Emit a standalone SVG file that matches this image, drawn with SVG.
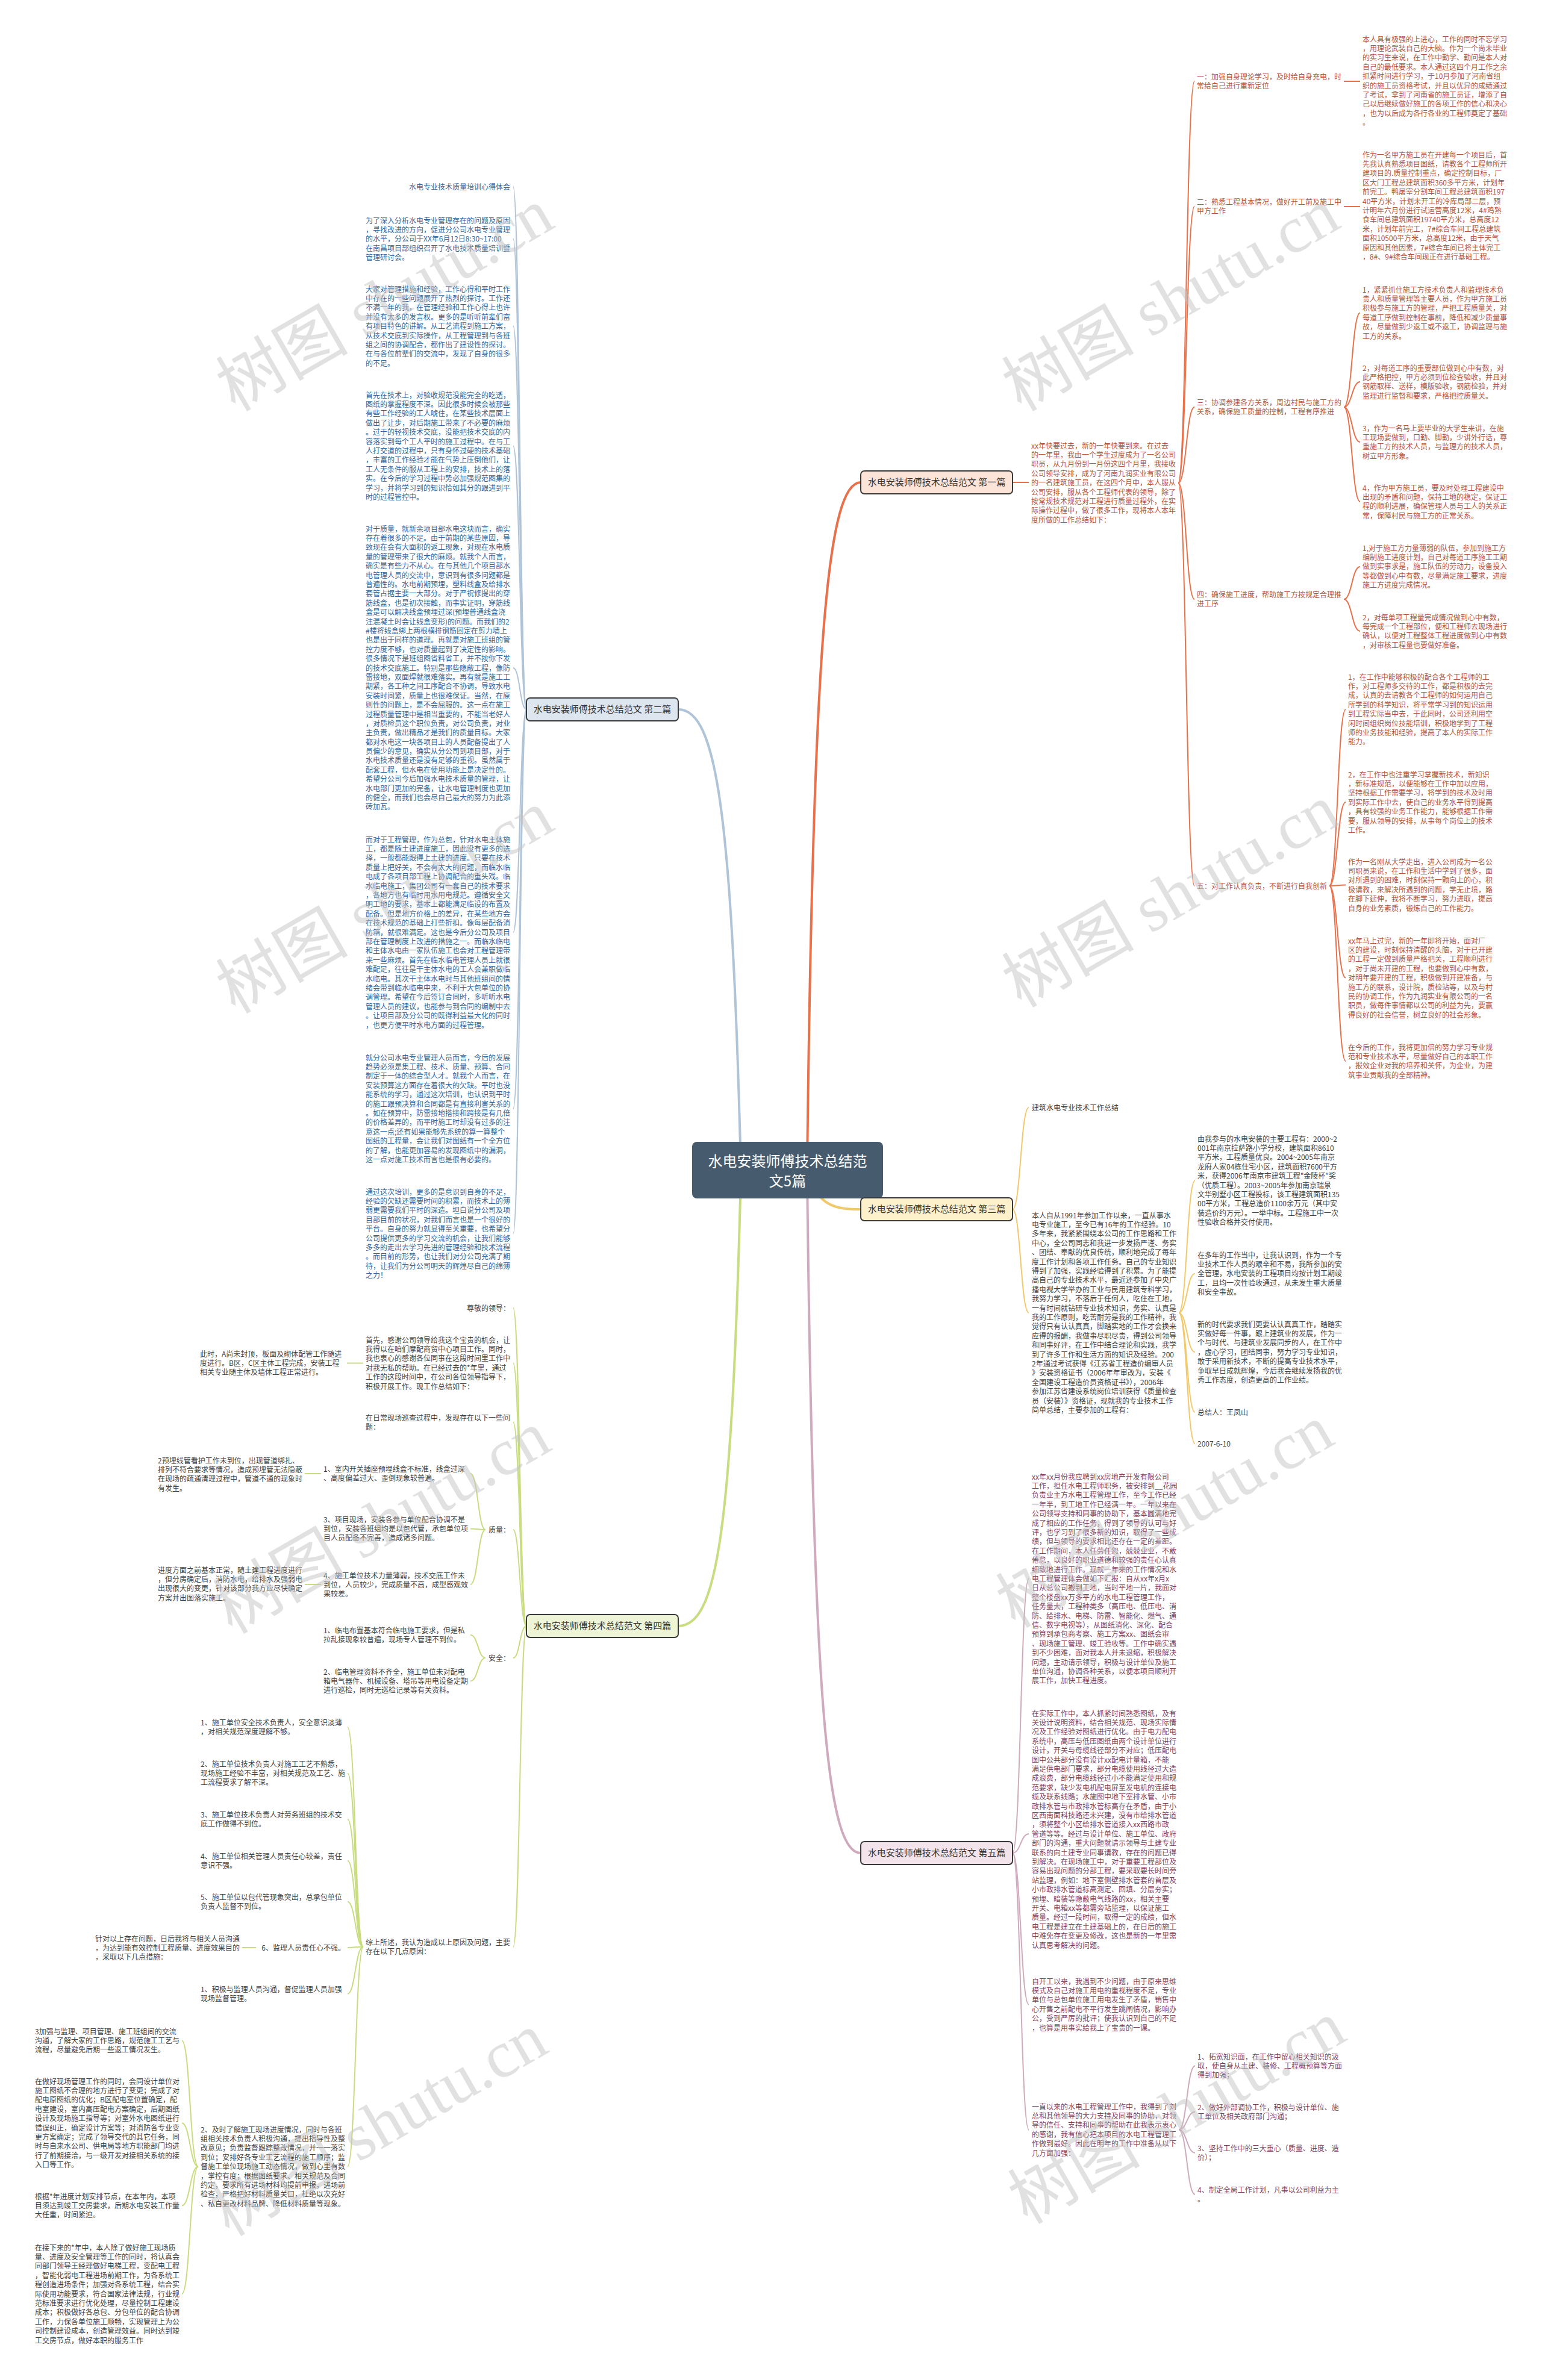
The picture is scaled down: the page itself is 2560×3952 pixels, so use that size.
<svg xmlns="http://www.w3.org/2000/svg" width="2560" height="3952" viewBox="0 0 2560 3952">
<style>
text{font-family:"Noto Sans CJK SC","Noto Sans",sans-serif;font-size:12px}
.c1{fill:#b5533c}
.c2{fill:#2f65a0}
.c3{fill:#3f3f3f}
.c4{fill:#3f3f3f}
.c5{fill:#7f3f5f}
.r{text-anchor:end}
.nt{font-size:15px;fill:#333333;text-anchor:middle}
.rt{font-size:24px;fill:#ffffff;text-anchor:middle}
.bn{stroke:#3a3a3a;stroke-width:2}
.k1{fill:none;stroke:#e8704a;stroke-width:2}
.k2{fill:none;stroke:#b0c4d8;stroke-width:2}
.k3{fill:none;stroke:#f2c96a;stroke-width:2}
.k4{fill:none;stroke:#c8dc80;stroke-width:2}
.k5{fill:none;stroke:#cfaabd;stroke-width:2}
.wm{font-family:"Liberation Serif","Noto Sans CJK SC",serif;font-size:110px;fill:#c4c4c4;opacity:0.5;text-anchor:middle}
</style>
<rect width="2560" height="3952" fill="#ffffff"/>

<g id="connectors">
<path class="k1" style="stroke-width:4" d="M1340 1940 C1350 1050 1375 801 1429 801"/>
<path class="k2" style="stroke-width:4" d="M1230 1940 C1215 1350 1190 1178 1126 1178"/>
<path class="k3" style="stroke-width:4" d="M1340 1950 C1360 2005 1390 2008 1429 2008"/>
<path class="k4" style="stroke-width:4" d="M1230 1950 C1215 2550 1190 2700 1126 2700"/>
<path class="k5" style="stroke-width:4" d="M1340 1950 C1350 2850 1375 3077 1429 3077"/>

<path class="k1" d="M1681 801 L1708 801"/>
<path class="k1" d="M1956 802 C1969.5 802 1969.5 135 1983 135"/>
<path class="k1" d="M1956 802 C1969.5 802 1969.5 343 1983 343"/>
<path class="k1" d="M1956 802 C1969.5 802 1969.5 676 1983 676"/>
<path class="k1" d="M1956 802 C1969.5 802 1969.5 995 1983 995"/>
<path class="k1" d="M1956 802 C1969.5 802 1969.5 1471 1983 1471"/>
<path class="k1" d="M2231 135 L2258 135"/>
<path class="k1" d="M2231 343 L2258 343"/>
<path class="k1" d="M2231 676 C2244.5 676 2244.5 519.5 2258 519.5"/>
<path class="k1" d="M2231 676 C2244.5 676 2244.5 634 2258 634"/>
<path class="k1" d="M2231 676 C2244.5 676 2244.5 734 2258 734"/>
<path class="k1" d="M2231 676 C2244.5 676 2244.5 833 2258 833"/>
<path class="k1" d="M2231 995 C2244.5 995 2244.5 941 2258 941"/>
<path class="k1" d="M2231 995 C2244.5 995 2244.5 1048 2258 1048"/>
<path class="k1" d="M2207 1471 C2220.5 1471 2220.5 1178 2234 1178"/>
<path class="k1" d="M2207 1471 C2220.5 1471 2220.5 1332 2234 1332"/>
<path class="k1" d="M2207 1471 C2220.5 1471 2220.5 1469.5 2234 1469.5"/>
<path class="k1" d="M2207 1471 C2220.5 1471 2220.5 1623.6 2234 1623.6"/>
<path class="k1" d="M2207 1471 C2220.5 1471 2220.5 1762 2234 1762"/>

<path class="k2" d="M874 1178 C863 1178 863 310 852 310"/>
<path class="k2" d="M874 1178 C863 1178 863 396.8 852 396.8"/>
<path class="k2" d="M874 1178 C863 1178 863 541.6 852 541.6"/>
<path class="k2" d="M874 1178 C863 1178 863 740.7 852 740.7"/>
<path class="k2" d="M874 1178 C863 1178 863 1109 852 1109"/>
<path class="k2" d="M874 1178 C863 1178 863 1548 852 1548"/>
<path class="k2" d="M874 1178 C863 1178 863 1840.7 852 1840.7"/>
<path class="k2" d="M874 1178 C863 1178 863 2048.3 852 2048.3"/>

<path class="k3" d="M1681 2008 C1694.5 2008 1694.5 1839 1708 1839"/>
<path class="k3" d="M1681 2008 C1694.5 2008 1694.5 2179.7 1708 2179.7"/>
<path class="k3" d="M1957 2179.7 C1970.5 2179.7 1970.5 1960.3 1984 1960.3"/>
<path class="k3" d="M1957 2179.7 C1970.5 2179.7 1970.5 2114.8 1984 2114.8"/>
<path class="k3" d="M1957 2179.7 C1970.5 2179.7 1970.5 2245.2 1984 2245.2"/>
<path class="k3" d="M1957 2179.7 C1970.5 2179.7 1970.5 2345 1984 2345"/>
<path class="k3" d="M1957 2179.7 C1970.5 2179.7 1970.5 2397 1984 2397"/>

<path class="k4" d="M874 2700 C863 2700 863 2172 852 2172"/>
<path class="k4" d="M874 2700 C863 2700 863 2263.5 852 2263.5"/>
<path class="k4" d="M874 2700 C863 2700 863 2361.7 852 2361.7"/>
<path class="k4" d="M874 2700 C863 2700 863 2540 852 2540"/>
<path class="k4" d="M874 2700 C863 2700 863 2753 852 2753"/>
<path class="k4" d="M874 2700 C863 2700 863 3232.7 852 3232.7"/>
<path class="k4" d="M603 2263.5 L576 2263.5"/>
<path class="k4" d="M806 2540 C793.5 2540 793.5 2446.7 781 2446.7"/>
<path class="k4" d="M806 2540 C793.5 2540 793.5 2538.4 781 2538.4"/>
<path class="k4" d="M806 2540 C793.5 2540 793.5 2631 781 2631"/>
<path class="k4" d="M533 2447 L506 2447"/>
<path class="k4" d="M533 2631 L506 2631"/>
<path class="k4" d="M806 2753 C793.5 2753 793.5 2714.7 781 2714.7"/>
<path class="k4" d="M806 2753 C793.5 2753 793.5 2791.4 781 2791.4"/>
<path class="k4" d="M603 3232.7 C590 3232.7 590 2867.7 577 2867.7"/>
<path class="k4" d="M603 3232.7 C590 3232.7 590 2944.4 577 2944.4"/>
<path class="k4" d="M603 3232.7 C590 3232.7 590 3020.7 577 3020.7"/>
<path class="k4" d="M603 3232.7 C590 3232.7 590 3089.7 577 3089.7"/>
<path class="k4" d="M603 3232.7 C590 3232.7 590 3157.7 577 3157.7"/>
<path class="k4" d="M603 3232.7 C590 3232.7 590 3234 577 3234"/>
<path class="k4" d="M603 3232.7 C590 3232.7 590 3310.7 577 3310.7"/>
<path class="k4" d="M603 3232.7 C590 3232.7 590 3597.6 577 3597.6"/>
<path class="k4" d="M425 3234 L402 3234"/>
<path class="k4" d="M329 3597.6 C315.5 3597.6 315.5 3388.4 302 3388.4"/>
<path class="k4" d="M329 3597.6 C315.5 3597.6 315.5 3525.3 302 3525.3"/>
<path class="k4" d="M329 3597.6 C315.5 3597.6 315.5 3662.4 302 3662.4"/>
<path class="k4" d="M329 3597.6 C315.5 3597.6 315.5 3809 302 3809"/>

<path class="k5" d="M1681 3077 C1694.5 3077 1694.5 2621.4 1708 2621.4"/>
<path class="k5" d="M1681 3077 C1694.5 3077 1694.5 3045.2 1708 3045.2"/>
<path class="k5" d="M1681 3077 C1694.5 3077 1694.5 3328.5 1708 3328.5"/>
<path class="k5" d="M1681 3077 C1694.5 3077 1694.5 3536.5 1708 3536.5"/>
<path class="k5" d="M1957 3536.5 C1970.5 3536.5 1970.5 3430.4 1984 3430.4"/>
<path class="k5" d="M1957 3536.5 C1970.5 3536.5 1970.5 3506.7 1984 3506.7"/>
<path class="k5" d="M1957 3536.5 C1970.5 3536.5 1970.5 3574.7 1984 3574.7"/>
<path class="k5" d="M1957 3536.5 C1970.5 3536.5 1970.5 3643.7 1984 3643.7"/>
</g>

<g id="root">
<rect x="1149" y="1896" width="317" height="94" rx="8" fill="#475b6e"/>
<text class="rt" x="1307.5" y="1937">水电安装师傅技术总结范</text>
<text class="rt" x="1307.5" y="1970">文5篇</text>
</g>

<g id="branch1">
<rect class="bn" x="1429" y="782" width="252" height="38" rx="6" fill="#fce4d9"/>
<text class="nt" x="1555" y="806">水电安装师傅技术总结范文 第一篇</text>
</g>
<g id="branch2">
<rect class="bn" x="874" y="1159" width="252" height="38" rx="6" fill="#dde6ef"/>
<text class="nt" x="1000" y="1183">水电安装师傅技术总结范文 第二篇</text>
</g>
<g id="branch3">
<rect class="bn" x="1429" y="1989" width="252" height="38" rx="6" fill="#fdf1cc"/>
<text class="nt" x="1555" y="2013">水电安装师傅技术总结范文 第三篇</text>
</g>
<g id="branch4">
<rect class="bn" x="874" y="2681" width="252" height="38" rx="6" fill="#eef5d6"/>
<text class="nt" x="1000" y="2705">水电安装师傅技术总结范文 第四篇</text>
</g>
<g id="branch5">
<rect class="bn" x="1429" y="3058" width="252" height="38" rx="6" fill="#f3e3ea"/>
<text class="nt" x="1555" y="3082">水电安装师傅技术总结范文 第五篇</text>
</g>

<g id="n1-intro"><text class="c1" x="1712" y="744.5"><tspan x="1712">xx年快要过去，新的一年快要到来。在过去</tspan><tspan x="1712" dy="15.4">的一年里，我由一个学生过度成为了一名公司</tspan><tspan x="1712" dy="15.4">职员，从九月份到一月份这四个月里，我接收</tspan><tspan x="1712" dy="15.4">公司领导安排，成为了河南九润实业有限公司</tspan><tspan x="1712" dy="15.4">的一名建筑施工员，在这四个月中，本人服从</tspan><tspan x="1712" dy="15.4">公司安排，服从各个工程师代表的领导，除了</tspan><tspan x="1712" dy="15.4">按常规技术规范对工程进行质量过程外，在实</tspan><tspan x="1712" dy="15.4">际操作过程中，做了很多工作，现将本人本年</tspan><tspan x="1712" dy="15.4">度所做的工作总结如下：</tspan></text></g>

<g id="n1-a"><text class="c1" x="1987" y="131.5"><tspan x="1987">一：加强自身理论学习，及时给自身充电，时</tspan><tspan x="1987" dy="15.4">常给自己进行重新定位</tspan></text></g>
<g id="n1-a1"><text class="c1" x="2262" y="69.5"><tspan x="2262">本人具有极强的上进心，工作的同时不忘学习</tspan><tspan x="2262" dy="15.4">，用理论武装自己的大脑。作为一个尚未毕业</tspan><tspan x="2262" dy="15.4">的实习生来说，在工作中勤学、勤问是本人对</tspan><tspan x="2262" dy="15.4">自己的最低要求。本人通过这四个月工作之余</tspan><tspan x="2262" dy="15.4">抓紧时间进行学习，于10月参加了河南省组</tspan><tspan x="2262" dy="15.4">织的施工员资格考试，并且以优异的成绩通过</tspan><tspan x="2262" dy="15.4">了考试，拿到了河南省的施工员证，增添了自</tspan><tspan x="2262" dy="15.4">己以后继续做好施工的各项工作的信心和决心</tspan><tspan x="2262" dy="15.4">，也为以后成为各行各业的工程师奠定了基础</tspan><tspan x="2262" dy="15.4">。</tspan></text></g>

<g id="n1-b"><text class="c1" x="1987" y="339.5"><tspan x="1987">二：熟悉工程基本情况，做好开工前及施工中</tspan><tspan x="1987" dy="15.4">甲方工作</tspan></text></g>
<g id="n1-b1"><text class="c1" x="2262" y="261.5"><tspan x="2262">作为一名甲方施工员在开建每一个项目后，首</tspan><tspan x="2262" dy="15.4">先我认真熟悉项目图纸，请教各个工程师所开</tspan><tspan x="2262" dy="15.4">建项目的.质量控制重点，确定控制目标，厂</tspan><tspan x="2262" dy="15.4">区大门工程总建筑面积360多平方米，计划年</tspan><tspan x="2262" dy="15.4">前完工。鸭屠宰分割车间工程总建筑面积197</tspan><tspan x="2262" dy="15.4">40平方米，计划未开工的冷库局部二层，预</tspan><tspan x="2262" dy="15.4">计明年六月份进行试运营高度12米，4#鸡熟</tspan><tspan x="2262" dy="15.4">食车间总建筑面积19740平方米，总高度12</tspan><tspan x="2262" dy="15.4">米，计划年前完工，7#综合车间工程总建筑</tspan><tspan x="2262" dy="15.4">面积10500平方米，总高度12米，由于天气</tspan><tspan x="2262" dy="15.4">原因和其他因素，7#综合车间已将主体完工</tspan><tspan x="2262" dy="15.4">，8#、9#综合车间现正在进行基础工程。</tspan></text></g>

<g id="n1-c"><text class="c1" x="1987" y="672.5"><tspan x="1987">三：协调参建各方关系，周边村民与施工方的</tspan><tspan x="1987" dy="15.4">关系，确保施工质量的控制，工程有序推进</tspan></text></g>
<g id="n1-c1"><text class="c1" x="2262" y="485.5"><tspan x="2262">1，紧紧抓住施工方技术负责人和监理技术负</tspan><tspan x="2262" dy="15.4">责人和质量管理等主要人员，作为甲方施工员</tspan><tspan x="2262" dy="15.4">积极参与施工方的管理，严把工程质量关，对</tspan><tspan x="2262" dy="15.4">每道工序做到控制在事前，降低和减少质量事</tspan><tspan x="2262" dy="15.4">故，尽量做到少返工或不返工，协调监理与施</tspan><tspan x="2262" dy="15.4">工方的关系。</tspan></text></g>
<g id="n1-c2"><text class="c1" x="2262" y="615.5"><tspan x="2262">2，对每道工序的重要部位做到心中有数，对</tspan><tspan x="2262" dy="15.4">此严格把控，甲方必须到位检查验收，并且对</tspan><tspan x="2262" dy="15.4">钢筋取样、送样，模版验收，钢筋检验，并对</tspan><tspan x="2262" dy="15.4">监理进行监督和要求，严格把控质量关。</tspan></text></g>
<g id="n1-c3"><text class="c1" x="2262" y="715.5"><tspan x="2262">3，作为一名马上要毕业的大学生来讲，在施</tspan><tspan x="2262" dy="15.4">工现场要做到，口勤、脚勤，少讲外行话，尊</tspan><tspan x="2262" dy="15.4">重施工方的技术人员，与监理方的技术人员，</tspan><tspan x="2262" dy="15.4">树立甲方形象。</tspan></text></g>
<g id="n1-c4"><text class="c1" x="2262" y="814.5"><tspan x="2262">4，作为甲方施工员，要及时处理工程建设中</tspan><tspan x="2262" dy="15.4">出现的矛盾和问题，保持工地的稳定，保证工</tspan><tspan x="2262" dy="15.4">程的顺利进展，确保管理人员与工人的关系正</tspan><tspan x="2262" dy="15.4">常，保障村民与施工方的正常关系。</tspan></text></g>

<g id="n1-d"><text class="c1" x="1987" y="991.5"><tspan x="1987">四：确保施工进度，帮助施工方按规定合理推</tspan><tspan x="1987" dy="15.4">进工序</tspan></text></g>
<g id="n1-d1"><text class="c1" x="2262" y="914.5"><tspan x="2262">1,对于施工方力量薄弱的队伍，参加到施工方</tspan><tspan x="2262" dy="15.4">编制施工进度计划，自己对每道工序施工工期</tspan><tspan x="2262" dy="15.4">做到实事求是，施工队伍的劳动力，设备投入</tspan><tspan x="2262" dy="15.4">等都做到心中有数，尽量满足施工要求，进度</tspan><tspan x="2262" dy="15.4">施工方进度完成情况。</tspan></text></g>
<g id="n1-d2"><text class="c1" x="2262" y="1029.5"><tspan x="2262">2，对每单项工程量完成情况做到心中有数，</tspan><tspan x="2262" dy="15.4">每完成一个工程部位，便和工程师去现场进行</tspan><tspan x="2262" dy="15.4">确认，以便对工程整体工程进度做到心中有数</tspan><tspan x="2262" dy="15.4">，对审核工程量也要做好准备。</tspan></text></g>

<g id="n1-e"><text class="c1" x="1987" y="1475.5">五：对工作认真负责，不断进行自我创新</text></g>
<g id="n1-e1"><text class="c1" x="2238" y="1128.5"><tspan x="2238">1，在工作中能够积极的配合各个工程师的工</tspan><tspan x="2238" dy="15.4">作，对工程师多交待的工作，都是积极的去完</tspan><tspan x="2238" dy="15.4">成，认真的去请教各个工程师的如何运用自己</tspan><tspan x="2238" dy="15.4">所学到的科学知识，将平常学习到的知识运用</tspan><tspan x="2238" dy="15.4">到工程实际当中去，于此同时，公司还利用空</tspan><tspan x="2238" dy="15.4">闲时间组织岗位技能培训，积极地学到了工程</tspan><tspan x="2238" dy="15.4">师的业务技能和经验，提高了本人的实际工作</tspan><tspan x="2238" dy="15.4">能力。</tspan></text></g>
<g id="n1-e2"><text class="c1" x="2238" y="1290.5"><tspan x="2238">2，在工作中也注重学习掌握新技术，新知识</tspan><tspan x="2238" dy="15.4">，新标准规范，以便能够在工作中加以应用，</tspan><tspan x="2238" dy="15.4">坚持根据工作需要学习，将学到的技术及时用</tspan><tspan x="2238" dy="15.4">到实际工作中去，使自己的业务水平得到提高</tspan><tspan x="2238" dy="15.4">，具有较强的业务工作能力，能够根据工作需</tspan><tspan x="2238" dy="15.4">要，服从领导的安排，从事每个岗位上的技术</tspan><tspan x="2238" dy="15.4">工作。</tspan></text></g>
<g id="n1-e3"><text class="c1" x="2238" y="1435.5"><tspan x="2238">作为一名刚从大学走出，进入公司成为一名公</tspan><tspan x="2238" dy="15.4">司职员来说，在工作和生活中学到了很多，面</tspan><tspan x="2238" dy="15.4">对所遇到的困难，时刻保持一颗向上的心，积</tspan><tspan x="2238" dy="15.4">极请教，来解决所遇到的问题，学无止境，路</tspan><tspan x="2238" dy="15.4">在脚下延伸，我将不断学习，努力进取，提高</tspan><tspan x="2238" dy="15.4">自身的业务素质，锻炼自己的工作能力。</tspan></text></g>
<g id="n1-e4"><text class="c1" x="2238" y="1566.5"><tspan x="2238">xx年马上过完，新的一年即将开始，面对厂</tspan><tspan x="2238" dy="15.4">区的建设，时刻保持清醒的头脑，对于已开建</tspan><tspan x="2238" dy="15.4">的工程一定做到质量严格把关，工程顺利进行</tspan><tspan x="2238" dy="15.4">，对于尚未开建的工程，也要做到心中有数，</tspan><tspan x="2238" dy="15.4">对明年要开建的工程，积极做到开建准备，与</tspan><tspan x="2238" dy="15.4">施工方的联系，设计院，质检站等，以及与村</tspan><tspan x="2238" dy="15.4">民的协调工作，作为九润实业有限公司的一名</tspan><tspan x="2238" dy="15.4">职员，做每件事情都以公司的利益为先，要赢</tspan><tspan x="2238" dy="15.4">得良好的社会信誉，树立良好的社会形象。</tspan></text></g>
<g id="n1-e5"><text class="c1" x="2238" y="1743.5"><tspan x="2238">在今后的工作，我将更加倍的努力学习专业规</tspan><tspan x="2238" dy="15.4">范和专业技术水平，尽量做好自己的本职工作</tspan><tspan x="2238" dy="15.4">，报效企业对我的培养和关怀，为企业，为建</tspan><tspan x="2238" dy="15.4">筑事业贡献我的全部精神。</tspan></text></g>

<g id="n2-title"><text class="c2 r" x="847" y="314.5">水电专业技术质量培训心得体会</text></g>
<g id="n2-p1"><text class="c2" x="607" y="370.5"><tspan x="607">为了深入分析水电专业管理存在的问题及原因</tspan><tspan x="607" dy="15.4">，寻找改进的方向，促进分公司水电专业管理</tspan><tspan x="607" dy="15.4">的水平，分公司于XX年6月12日8:30~17:00</tspan><tspan x="607" dy="15.4">在南昌项目部组织召开了水电技术质量培训暨</tspan><tspan x="607" dy="15.4">管理研讨会。</tspan></text></g>
<g id="n2-p2"><text class="c2" x="607" y="484.5"><tspan x="607">大家对管理措施和经验，工作心得和平时工作</tspan><tspan x="607" dy="15.4">中存在的一些问题展开了热烈的探讨。工作还</tspan><tspan x="607" dy="15.4">不满一年的我，在管理经验和工作心得上也许</tspan><tspan x="607" dy="15.4">并没有太多的发言权。更多的是听听前辈们富</tspan><tspan x="607" dy="15.4">有项目特色的讲解。从工艺流程到施工方案，</tspan><tspan x="607" dy="15.4">从技术交底到实际操作，从工程管理到与各班</tspan><tspan x="607" dy="15.4">组之间的协调配合，都作出了建设性的探讨。</tspan><tspan x="607" dy="15.4">在与各位前辈们的交流中，发现了自身的很多</tspan><tspan x="607" dy="15.4">的不足。</tspan></text></g>
<g id="n2-p3"><text class="c2" x="607" y="660.5"><tspan x="607">首先在技术上，对验收规范没能完全的吃透，</tspan><tspan x="607" dy="15.4">图纸的掌握程度不深。因此很多时候会被那些</tspan><tspan x="607" dy="15.4">有些工作经验的工人唬住，在某些技术层面上</tspan><tspan x="607" dy="15.4">做出了让步，对后期施工带来了不必要的麻烦</tspan><tspan x="607" dy="15.4">。过于的轻视技术交底，没能把技术交底的内</tspan><tspan x="607" dy="15.4">容落实到每个工人平时的施工过程中。在与工</tspan><tspan x="607" dy="15.4">人打交道的过程中，只有身怀过硬的技术基础</tspan><tspan x="607" dy="15.4">，丰富的工作经验才能在气势上压倒他们，让</tspan><tspan x="607" dy="15.4">工人无条件的服从工程上的安排，技术上的落</tspan><tspan x="607" dy="15.4">实。在今后的学习过程中势必加强规范图集的</tspan><tspan x="607" dy="15.4">学习，并将学习到的知识恰如其分的跟进到平</tspan><tspan x="607" dy="15.4">时的过程管控中。</tspan></text></g>
<g id="n2-p4"><text class="c2" x="607" y="882.5"><tspan x="607">对于质量，就新余项目部水电这块而言，确实</tspan><tspan x="607" dy="15.4">存在着很多的不足。由于前期的某些原因，导</tspan><tspan x="607" dy="15.4">致现在会有大面积的返工现象，对现在水电质</tspan><tspan x="607" dy="15.4">量的管理带来了很大的麻烦。就我个人而言，</tspan><tspan x="607" dy="15.4">确实是有些力不从心。在与其他几个项目部水</tspan><tspan x="607" dy="15.4">电管理人员的交流中，意识到有很多问题都是</tspan><tspan x="607" dy="15.4">普遍性的。水电前期预埋，塑料线盒及给排水</tspan><tspan x="607" dy="15.4">套管占据主要一大部分。对于严祝修提出的穿</tspan><tspan x="607" dy="15.4">筋线盒，也是初次接触，而事实证明，穿筋线</tspan><tspan x="607" dy="15.4">盒是可以解决线盒预埋过深(预埋普通线盒浇</tspan><tspan x="607" dy="15.4">注混凝土时会让线盒变形)的问题。而我们的2</tspan><tspan x="607" dy="15.4">#楼将线盒绑上两根横排钢筋固定在剪力墙上</tspan><tspan x="607" dy="15.4">也是出于同样的道理。再就是对施工班组的管</tspan><tspan x="607" dy="15.4">控力度不够，也对质量起到了决定性的影响。</tspan><tspan x="607" dy="15.4">很多情况下是班组图省料省工，并不按你下发</tspan><tspan x="607" dy="15.4">的技术交底施工。特别是那些隐蔽工程，像防</tspan><tspan x="607" dy="15.4">雷接地，双面焊就很难落实。再有就是施工工</tspan><tspan x="607" dy="15.4">期紧，各工种之间工序配合不协调，导致水电</tspan><tspan x="607" dy="15.4">安装时间紧，质量上也很难保证。当然，在原</tspan><tspan x="607" dy="15.4">则性的问题上，是不会屈服的。这一点在施工</tspan><tspan x="607" dy="15.4">过程质量管理中是相当重要的，不能当老好人</tspan><tspan x="607" dy="15.4">，对质检员这个职位负责，对公司负责，对业</tspan><tspan x="607" dy="15.4">主负责，做出精品才是我们的质量目标。大家</tspan><tspan x="607" dy="15.4">都对水电这一块各项目上的人员配备提出了人</tspan><tspan x="607" dy="15.4">员偏少的意见，确实从分公司到项目部，对于</tspan><tspan x="607" dy="15.4">水电技术质量还是没有足够的重视。虽然属于</tspan><tspan x="607" dy="15.4">配套工程，但水电在使用功能上是决定性的。</tspan><tspan x="607" dy="15.4">希望分公司今后加强水电技术质量的管理，让</tspan><tspan x="607" dy="15.4">水电部门更加的完备，让水电管理制度也更加</tspan><tspan x="607" dy="15.4">的健全，而我们也会尽自己最大的努力为此添</tspan><tspan x="607" dy="15.4">砖加瓦。</tspan></text></g>
<g id="n2-p5"><text class="c2" x="607" y="1398.5"><tspan x="607">而对于工程管理，作为总包，针对水电主体施</tspan><tspan x="607" dy="15.4">工，都是随土建进度施工，因此没有更多的选</tspan><tspan x="607" dy="15.4">择，一般都能跟得上土建的进度。只要在技术</tspan><tspan x="607" dy="15.4">质量上把好关，不会有太大的问题，而临水临</tspan><tspan x="607" dy="15.4">电成了各项目部工程上协调配合的重头戏。临</tspan><tspan x="607" dy="15.4">水临电施工，集团公司有一套自己的技术要求</tspan><tspan x="607" dy="15.4">，各地方也有临时用水用电规范。遵循安全文</tspan><tspan x="607" dy="15.4">明工地的要求，基本上都能满足临设的布置及</tspan><tspan x="607" dy="15.4">配备。但是地方价格上的差异，在某些地方会</tspan><tspan x="607" dy="15.4">在技术规范的基础上打些折扣。像每层配备消</tspan><tspan x="607" dy="15.4">防箱，就很难满足。这也是今后分公司及项目</tspan><tspan x="607" dy="15.4">部在管理制度上改进的措施之一。而临水临电</tspan><tspan x="607" dy="15.4">和主体水电由一家队伍施工也会对工程管理带</tspan><tspan x="607" dy="15.4">来一些麻烦。首先在临水临电管理人员上就很</tspan><tspan x="607" dy="15.4">难配足，往往是干主体水电的工人会兼职做临</tspan><tspan x="607" dy="15.4">水临电。其次干主体水电时与其他班组间的情</tspan><tspan x="607" dy="15.4">绪会带到临水临电中来，不利于大包单位的协</tspan><tspan x="607" dy="15.4">调管理。希望在今后签订合同时，多听听水电</tspan><tspan x="607" dy="15.4">管理人员的建议，也能参与到合同的编制中去</tspan><tspan x="607" dy="15.4">。让项目部及分公司的既得利益最大化的同时</tspan><tspan x="607" dy="15.4">，也更方便平时水电方面的过程管理。</tspan></text></g>
<g id="n2-p6"><text class="c2" x="607" y="1760.5"><tspan x="607">就分公司水电专业管理人员而言，今后的发展</tspan><tspan x="607" dy="15.4">趋势必须是集工程、技术、质量、预算、合同</tspan><tspan x="607" dy="15.4">制定于一体的综合型人才。就我个人而言，在</tspan><tspan x="607" dy="15.4">安装预算这方面存在着很大的欠缺。平时也没</tspan><tspan x="607" dy="15.4">能系统的学习，通过这次培训，也认识到平时</tspan><tspan x="607" dy="15.4">的施工跟预决算和合同都是有直接利害关系的</tspan><tspan x="607" dy="15.4">。如在预算中，防雷接地搭接和跨接是有几倍</tspan><tspan x="607" dy="15.4">的价格差异的，而平时施工时却没有过多的注</tspan><tspan x="607" dy="15.4">意这一点;还有如果能够先系统的算一算整个</tspan><tspan x="607" dy="15.4">图纸的工程量，会让我们对图纸有一个全方位</tspan><tspan x="607" dy="15.4">的了解，也能更加容易的发现图纸中的漏洞，</tspan><tspan x="607" dy="15.4">这一点对施工技术而言也是很有必要的。</tspan></text></g>
<g id="n2-p7"><text class="c2" x="607" y="1983.5"><tspan x="607">通过这次培训，更多的是意识到自身的不足，</tspan><tspan x="607" dy="15.4">经验的欠缺还需要时间的积累，而技术上的薄</tspan><tspan x="607" dy="15.4">弱更需要我们平时的深造。坦白说分公司及项</tspan><tspan x="607" dy="15.4">目部目前的状况，对我们而言也是一个很好的</tspan><tspan x="607" dy="15.4">平台。自身的努力就显得至关重要，也希望分</tspan><tspan x="607" dy="15.4">公司提供更多的学习交流的机会，让我们能够</tspan><tspan x="607" dy="15.4">多多的走出去学习先进的管理经验和技术流程</tspan><tspan x="607" dy="15.4">。而目前的形势，也让我们对分公司充满了期</tspan><tspan x="607" dy="15.4">待，让我们为分公司明天的辉煌尽自己的绵薄</tspan><tspan x="607" dy="15.4">之力！</tspan></text></g>

<g id="n3-title"><text class="c3" x="1713" y="1843.5">建筑水电专业技术工作总结</text></g>
<g id="n3-main"><text class="c3" x="1713" y="2022.5"><tspan x="1713">本人自从1991年参加工作以来，一直从事水</tspan><tspan x="1713" dy="15.4">电专业施工，至今已有16年的工作经验。10</tspan><tspan x="1713" dy="15.4">多年来，我紧紧围绕本公司的工作思路和工作</tspan><tspan x="1713" dy="15.4">中心，全公司同志和我进一步发扬严谨、务实</tspan><tspan x="1713" dy="15.4">、团结、奉献的优良传统，顺利地完成了每年</tspan><tspan x="1713" dy="15.4">度工作计划和各项工作任务。自己的专业知识</tspan><tspan x="1713" dy="15.4">得到了加强，实践经验得到了积累。为了能提</tspan><tspan x="1713" dy="15.4">高自己的专业技术水平，最近还参加了中央广</tspan><tspan x="1713" dy="15.4">播电视大学举办的工业与民用建筑专科学习，</tspan><tspan x="1713" dy="15.4">我努力学习，不落后于任何人，吃住在工地，</tspan><tspan x="1713" dy="15.4">一有时间就钻研专业技术知识，务实、认真是</tspan><tspan x="1713" dy="15.4">我的工作原则，吃苦耐劳是我的工作精神，我</tspan><tspan x="1713" dy="15.4">觉得只有认认真真，脚踏实地的工作才会换来</tspan><tspan x="1713" dy="15.4">应得的报酬，我做事尽职尽责，得到公司领导</tspan><tspan x="1713" dy="15.4">和同事好评，在工作中结合理论和实践，我学</tspan><tspan x="1713" dy="15.4">到了许多工作和生活方面的知识及经验。200</tspan><tspan x="1713" dy="15.4">2年通过考试获得《江苏省工程造价编审人员</tspan><tspan x="1713" dy="15.4">》安装资格证书（2006年年审改为，安装《</tspan><tspan x="1713" dy="15.4">全国建设工程造价员资格证书》），2006年</tspan><tspan x="1713" dy="15.4">参加江苏省建设系统岗位培训获得《质量检查</tspan><tspan x="1713" dy="15.4">员（安装）》资格证，现就我的专业技术工作</tspan><tspan x="1713" dy="15.4">简单总结，主要参加的工程有：</tspan></text></g>
<g id="n3-a"><text class="c3" x="1988" y="1895.5"><tspan x="1988">由我参与的水电安装的主要工程有：2000~2</tspan><tspan x="1988" dy="15.4">001年南京拉萨路小学分校，建筑面积8610</tspan><tspan x="1988" dy="15.4">平方米，工程质量优良。2004~2005年南京</tspan><tspan x="1988" dy="15.4">龙府人家04栋住宅小区，建筑面积7600平方</tspan><tspan x="1988" dy="15.4">米，获得2006年南京市建筑工程"金陵杯"奖</tspan><tspan x="1988" dy="15.4">（优质工程）。2003~2005年参加南京瑞景</tspan><tspan x="1988" dy="15.4">文华别墅小区工程投标，该工程建筑面积135</tspan><tspan x="1988" dy="15.4">00平方米，工程总造价1100余万元（其中安</tspan><tspan x="1988" dy="15.4">装造价约万元）。一举中标。工程施工中一次</tspan><tspan x="1988" dy="15.4">性验收合格并交付使用。</tspan></text></g>
<g id="n3-b"><text class="c3" x="1988" y="2088.5"><tspan x="1988">在多年的工作当中，让我认识到，作为一个专</tspan><tspan x="1988" dy="15.4">业技术工作人员的艰辛和不易，我所参加的安</tspan><tspan x="1988" dy="15.4">全管理，水电安装的工程项目均按计划工期竣</tspan><tspan x="1988" dy="15.4">工，且均一次性验收通过，从未发生重大质量</tspan><tspan x="1988" dy="15.4">和安全事故。</tspan></text></g>
<g id="n3-c"><text class="c3" x="1988" y="2203.5"><tspan x="1988">新的时代要求我们更要认认真真工作，踏踏实</tspan><tspan x="1988" dy="15.4">实做好每一件事，跟上建筑业的发展，作为一</tspan><tspan x="1988" dy="15.4">个与时代、与建筑业发展同步的人，在工作中</tspan><tspan x="1988" dy="15.4">，虚心学习，团结同事，努力学习专业知识，</tspan><tspan x="1988" dy="15.4">敢于采用新技术，不断的提高专业技术水平，</tspan><tspan x="1988" dy="15.4">争取早日成就辉煌，今后我会继续发扬我的优</tspan><tspan x="1988" dy="15.4">秀工作态度，创造更高的工作业绩。</tspan></text></g>
<g id="n3-d"><text class="c3" x="1988" y="2349.5">总结人：王凤山</text></g>
<g id="n3-e"><text class="c3" x="1988" y="2401.5">2007-6-10</text></g>

<g id="n4-a"><text class="c4 r" x="847" y="2176.5">尊敬的领导：</text></g>
<g id="n4-b"><text class="c4" x="607" y="2229.5"><tspan x="607">首先，感谢公司领导给我这个宝贵的机会，让</tspan><tspan x="607" dy="15.4">我得以在咱们摩配商贸中心项目工作。同时，</tspan><tspan x="607" dy="15.4">我也衷心的感谢各位同事在这段时间里工作中</tspan><tspan x="607" dy="15.4">对我无私的帮助。在已经过去的*年里，通过</tspan><tspan x="607" dy="15.4">工作的这段时间中，在公司各位领导指导下，</tspan><tspan x="607" dy="15.4">积极开展工作。现工作总结如下：</tspan></text></g>
<g id="n4-b1"><text class="c4" x="332" y="2252.5"><tspan x="332">此时，A尚未封顶，板面及砌体配管工作随进</tspan><tspan x="332" dy="15.4">度进行。B区，C区主体工程完成，安装工程</tspan><tspan x="332" dy="15.4">相关专业随主体及墙体工程正常进行。</tspan></text></g>
<g id="n4-c"><text class="c4" x="607" y="2358.5"><tspan x="607">在日常现场巡查过程中，发现存在以下一些问</tspan><tspan x="607" dy="15.4">题：</tspan></text></g>
<g id="n4-d"><text class="c4 r" x="847" y="2544.5">质量：</text></g>
<g id="n4-d1"><text class="c4" x="537" y="2443.5"><tspan x="537">1、室内开关插座预埋线盒不标准，线盒过深</tspan><tspan x="537" dy="15.4">、高度偏差过大、歪倒现象较普遍。</tspan></text></g>
<g id="n4-d1a"><text class="c4" x="262" y="2429.5"><tspan x="262">2预埋线管看护工作未到位，出现管道绑扎、</tspan><tspan x="262" dy="15.4">排列不符合要求等情况，造成预埋管无法隐蔽</tspan><tspan x="262" dy="15.4">在现场的疏通清理过程中，管道不通的现象时</tspan><tspan x="262" dy="15.4">有发生。</tspan></text></g>
<g id="n4-d2"><text class="c4" x="537" y="2527.5"><tspan x="537">3、项目现场，安装各参与单位配合协调不是</tspan><tspan x="537" dy="15.4">到位，安装各班组均是以包代管，承包单位项</tspan><tspan x="537" dy="15.4">目人员配备不完善，造成诸多问题。</tspan></text></g>
<g id="n4-d3"><text class="c4" x="537" y="2620.5"><tspan x="537">4、施工单位技术力量薄弱，技术交底工作未</tspan><tspan x="537" dy="15.4">到位，人员较少，完成质量不高，成型感观效</tspan><tspan x="537" dy="15.4">果较差。</tspan></text></g>
<g id="n4-d3a"><text class="c4" x="262" y="2611.5"><tspan x="262">进度方面之前基本正常，随土建工程进度进行</tspan><tspan x="262" dy="15.4">，但分房确定后，消防水电，给排水及强弱电</tspan><tspan x="262" dy="15.4">出现很大的变更，针对该部分我方应尽快确定</tspan><tspan x="262" dy="15.4">方案并出图落实施工。</tspan></text></g>
<g id="n4-e"><text class="c4 r" x="847" y="2757.5">安全：</text></g>
<g id="n4-e1"><text class="c4" x="537" y="2711.5"><tspan x="537">1、临电布置基本符合临电施工要求，但是私</tspan><tspan x="537" dy="15.4">拉乱接现象较普遍，现场专人管理不到位。</tspan></text></g>
<g id="n4-e2"><text class="c4" x="537" y="2780.5"><tspan x="537">2、临电管理资料不齐全，施工单位未对配电</tspan><tspan x="537" dy="15.4">箱电气器件、机械设备、塔吊等用电设备定期</tspan><tspan x="537" dy="15.4">进行巡检，同时无巡检记录等有关资料。</tspan></text></g>
<g id="n4-f"><text class="c4" x="607" y="3229.5"><tspan x="607">综上所述，我认为造成以上原因及问题，主要</tspan><tspan x="607" dy="15.4">存在以下几点原因：</tspan></text></g>
<g id="n4-f1"><text class="c4" x="333" y="2864.5"><tspan x="333">1、施工单位安全技术负责人，安全意识淡薄</tspan><tspan x="333" dy="15.4">，对相关规范深度理解不够。</tspan></text></g>
<g id="n4-f2"><text class="c4" x="333" y="2933.5"><tspan x="333">2、施工单位技术负责人对施工工艺不熟悉，</tspan><tspan x="333" dy="15.4">现场施工经验不丰富，对相关规范及工艺、施</tspan><tspan x="333" dy="15.4">工流程要求了解不深。</tspan></text></g>
<g id="n4-f3"><text class="c4" x="333" y="3017.5"><tspan x="333">3、施工单位技术负责人对劳务班组的技术交</tspan><tspan x="333" dy="15.4">底工作做得不到位。</tspan></text></g>
<g id="n4-f4"><text class="c4" x="333" y="3086.5"><tspan x="333">4、施工单位相关管理人员责任心较差，责任</tspan><tspan x="333" dy="15.4">意识不强。</tspan></text></g>
<g id="n4-f5"><text class="c4" x="333" y="3154.5"><tspan x="333">5、施工单位以包代管现象突出，总承包单位</tspan><tspan x="333" dy="15.4">负责人监督不到位。</tspan></text></g>
<g id="n4-f6"><text class="c4 r" x="573" y="3238.5">6、监理人员责任心不强。</text></g>
<g id="n4-f6a"><text class="c4" x="158" y="3223.5"><tspan x="158">针对以上存在问题，日后我将与相关人员沟通</tspan><tspan x="158" dy="15.4">，为达到能有效控制工程质量、进度效果目的</tspan><tspan x="158" dy="15.4">，采取以下几点措施：</tspan></text></g>
<g id="n4-f7"><text class="c4" x="333" y="3307.5"><tspan x="333">1、积极与监理人员沟通，督促监理人员加强</tspan><tspan x="333" dy="15.4">现场监督管理。</tspan></text></g>
<g id="n4-f8"><text class="c4" x="333" y="3540.5"><tspan x="333">2、及时了解施工现场进度情况，同时与各班</tspan><tspan x="333" dy="15.4">组相关技术负责人积极沟通，提出指导性及整</tspan><tspan x="333" dy="15.4">改意见；负责监督跟踪整改情况，并一一落实</tspan><tspan x="333" dy="15.4">到位；安排好各专业工艺流程的施工顺序；监</tspan><tspan x="333" dy="15.4">督施工单位现场施工动态情况，做到心里有数</tspan><tspan x="333" dy="15.4">，掌控有度；根据图纸要求、相关规范及合同</tspan><tspan x="333" dy="15.4">约定，要求所有进场材料均提前申报，进场前</tspan><tspan x="333" dy="15.4">检查，严格把好材料质量关口，杜绝以次充好</tspan><tspan x="333" dy="15.4">、私自更改材料品牌、降低材料质量等现象。</tspan></text></g>
<g id="n4-f8a"><text class="c4" x="58" y="3377.5"><tspan x="58">3加强与监理、项目管理、施工班组间的交流</tspan><tspan x="58" dy="15.4">沟通，了解大家的工作思路，规范施工工艺与</tspan><tspan x="58" dy="15.4">流程，尽量避免后期一些返工情况发生。</tspan></text></g>
<g id="n4-f8b"><text class="c4" x="58" y="3460.5"><tspan x="58">在做好现场管理工作的同时，会同设计单位对</tspan><tspan x="58" dy="15.4">施工图纸不合理的地方进行了变更；完成了对</tspan><tspan x="58" dy="15.4">配电原图纸的优化；B区配电室位置确定，配</tspan><tspan x="58" dy="15.4">电室建设，室内高压配电方案确定，后期图纸</tspan><tspan x="58" dy="15.4">设计及现场施工指导等；对室外水电图纸进行</tspan><tspan x="58" dy="15.4">错误纠正，确定设计方案等；对消防各专业变</tspan><tspan x="58" dy="15.4">更方案确定；完成了领导交代的其它任务，同</tspan><tspan x="58" dy="15.4">时与自来水公司、供电局等地方职能部门均进</tspan><tspan x="58" dy="15.4">行了前期接洽，与一级开发对接相关系统的接</tspan><tspan x="58" dy="15.4">入口等工作。</tspan></text></g>
<g id="n4-f8c"><text class="c4" x="58" y="3651.5"><tspan x="58">根据*年进度计划安排节点，在本年内，本项</tspan><tspan x="58" dy="15.4">目须达到竣工交房要求，后期水电安装工作量</tspan><tspan x="58" dy="15.4">大任重，时间紧迫。</tspan></text></g>
<g id="n4-f8d"><text class="c4" x="58" y="3736.5"><tspan x="58">在接下来的*年中，本人除了做好施工现场质</tspan><tspan x="58" dy="15.4">量、进度及安全管理等工作的同时，将认真会</tspan><tspan x="58" dy="15.4">同部门领导王经理做好电梯工程，变配电工程</tspan><tspan x="58" dy="15.4">，智能化弱电工程进场前期工作，为各系统工</tspan><tspan x="58" dy="15.4">程创造进场条件；加强对各系统工程，结合实</tspan><tspan x="58" dy="15.4">际使用功能要求，符合国家法律法规，行业规</tspan><tspan x="58" dy="15.4">范标准要求进行优化处理，尽量控制工程建设</tspan><tspan x="58" dy="15.4">成本；积极做好各总包、分包单位的配合协调</tspan><tspan x="58" dy="15.4">工作，力保各单位施工顺畅，实现管理上为公</tspan><tspan x="58" dy="15.4">司控制建设成本，创造管理效益。同时达到竣</tspan><tspan x="58" dy="15.4">工交房节点，做好本职的服务工作</tspan></text></g>

<g id="n5-a"><text class="c5" x="1713" y="2456.5"><tspan x="1713">xx年xx月份我应聘到xx房地产开发有限公司</tspan><tspan x="1713" dy="15.4">工作，担任水电工程师职务，被安排到__花园</tspan><tspan x="1713" dy="15.4">负责业主方水电工程管理工作，至今工作已经</tspan><tspan x="1713" dy="15.4">一年半，到工地工作已经满一年。一年以来在</tspan><tspan x="1713" dy="15.4">公司领导支持和同事的协助下，基本圆满地完</tspan><tspan x="1713" dy="15.4">成了相应的工作任务，得到了领导的认可与好</tspan><tspan x="1713" dy="15.4">评，也学习到了很多新的知识，取得了一些成</tspan><tspan x="1713" dy="15.4">绩，但与领导的要求相比还存在一定的差距。</tspan><tspan x="1713" dy="15.4">在工作期间，本人任劳任怨，兢兢业业，不敢</tspan><tspan x="1713" dy="15.4">倦怠，以良好的职业道德和较强的责任心认真</tspan><tspan x="1713" dy="15.4">细致地进行工作。现就一年来的工作情况和水</tspan><tspan x="1713" dy="15.4">电工程管理体会做如下汇报：自从xx年x月x</tspan><tspan x="1713" dy="15.4">日从总公司搬到工地，当时平地一片，我面对</tspan><tspan x="1713" dy="15.4">整个楼盘xx万多平方的水电工程管理工作，</tspan><tspan x="1713" dy="15.4">任务量大，工程种类多（高压电、低压电、消</tspan><tspan x="1713" dy="15.4">防、给排水、电梯、防雷、智能化、燃气、通</tspan><tspan x="1713" dy="15.4">信、数字电视等），从图纸消化、深化、配合</tspan><tspan x="1713" dy="15.4">预算到承包商考察、施工方案xx、图纸会审</tspan><tspan x="1713" dy="15.4">、现场施工管理、竣工验收等。工作中确实遇</tspan><tspan x="1713" dy="15.4">到不少困难，面对我本人并未退缩，积极解决</tspan><tspan x="1713" dy="15.4">问题，主动请示领导，积极与设计单位及施工</tspan><tspan x="1713" dy="15.4">单位沟通，协调各种关系，以便本项目顺利开</tspan><tspan x="1713" dy="15.4">展工作，加快工程进度。</tspan></text></g>
<g id="n5-b"><text class="c5" x="1713" y="2849.5"><tspan x="1713">在实际工作中，本人抓紧时间熟悉图纸，及有</tspan><tspan x="1713" dy="15.4">关设计说明资料，结合相关规范、现场实际情</tspan><tspan x="1713" dy="15.4">况及工作经验对图纸进行优化。由于电力配电</tspan><tspan x="1713" dy="15.4">系统中，高压与低压图纸由两个设计单位进行</tspan><tspan x="1713" dy="15.4">设计，开关与母缆线径部分不对应；低压配电</tspan><tspan x="1713" dy="15.4">图中公共部分没有设计xx配电计量箱，不能</tspan><tspan x="1713" dy="15.4">满足供电部门要求，部分电缆使用线径过大造</tspan><tspan x="1713" dy="15.4">成浪费，部分电缆线径过小不能满足使用和规</tspan><tspan x="1713" dy="15.4">范要求，缺少发电机配电屏至发电机的连接电</tspan><tspan x="1713" dy="15.4">缆及联系线路；水施图中地下室排水管、小市</tspan><tspan x="1713" dy="15.4">政排水管与市政排水管标高存在矛盾，由于小</tspan><tspan x="1713" dy="15.4">区西南面科技路还未兴建，没有市给排水管道</tspan><tspan x="1713" dy="15.4">，须将整个小区给排水管道接入xx西路市政</tspan><tspan x="1713" dy="15.4">管道等等。经过与设计单位、施工单位、政府</tspan><tspan x="1713" dy="15.4">部门的沟通，重大问题就请示领导与土建专业</tspan><tspan x="1713" dy="15.4">联系的向土建专业同事请教，存在的问题已得</tspan><tspan x="1713" dy="15.4">到解决。在现场施工中，对于重要工程部位及</tspan><tspan x="1713" dy="15.4">容易出现问题的分部工程，要采取要长时间旁</tspan><tspan x="1713" dy="15.4">站监理，例如：地下室侧壁排水管套的首层及</tspan><tspan x="1713" dy="15.4">小市政排水管道标高测定、回填、分层夯实；</tspan><tspan x="1713" dy="15.4">预埋、暗装等隐蔽电气线路的xx，相关主要</tspan><tspan x="1713" dy="15.4">开关、电箱xx等都需旁站监理，以保证施工</tspan><tspan x="1713" dy="15.4">质量。经过一段时间，取得一定的成绩，但水</tspan><tspan x="1713" dy="15.4">电工程是建立在土建基础上的，在日后的施工</tspan><tspan x="1713" dy="15.4">中难免存在变更及修改，这也是新的一年里需</tspan><tspan x="1713" dy="15.4">认真思考解决的问题。</tspan></text></g>
<g id="n5-c"><text class="c5" x="1713" y="3294.5"><tspan x="1713">自开工以来，我遇到不少问题，由于原来思维</tspan><tspan x="1713" dy="15.4">模式及自己对施工用电的重视程度不足，专业</tspan><tspan x="1713" dy="15.4">单位与总包单位施工用电发生了矛盾，销售中</tspan><tspan x="1713" dy="15.4">心开售之前配电不平行发生跳闸情况，影响办</tspan><tspan x="1713" dy="15.4">公，受到严厉的批评；使我认识到自己的不足</tspan><tspan x="1713" dy="15.4">，也算是用事实给我上了宝贵的一课。</tspan></text></g>
<g id="n5-d"><text class="c5" x="1713" y="3502.5"><tspan x="1713">一直以来的水电工程管理工作中，我得到了刘</tspan><tspan x="1713" dy="15.4">总和其他领导的大力支持及同事的协助，对领</tspan><tspan x="1713" dy="15.4">导的信任、支持和同事的帮助在此我表示衷心</tspan><tspan x="1713" dy="15.4">的感谢，我有信心把本项目的水电工程管理工</tspan><tspan x="1713" dy="15.4">作做到最好。因此在明年的工作中准备从以下</tspan><tspan x="1713" dy="15.4">几方面加强：</tspan></text></g>
<g id="n5-d1"><text class="c5" x="1988" y="3419.5"><tspan x="1988">1、拓宽知识面，在工作中留心相关知识的汲</tspan><tspan x="1988" dy="15.4">取，使自身从土建、装修、工程概预算等方面</tspan><tspan x="1988" dy="15.4">得到加强；</tspan></text></g>
<g id="n5-d2"><text class="c5" x="1988" y="3503.5"><tspan x="1988">2、做好外部调协工作，积极与设计单位、施</tspan><tspan x="1988" dy="15.4">工单位及相关政府部门沟通；</tspan></text></g>
<g id="n5-d3"><text class="c5" x="1988" y="3571.5"><tspan x="1988">3、坚持工作中的三大重心（质量、进度、造</tspan><tspan x="1988" dy="15.4">价）；</tspan></text></g>
<g id="n5-d4"><text class="c5" x="1988" y="3640.5"><tspan x="1988">4、制定全局工作计划，凡事以公司利益为主</tspan><tspan x="1988" dy="15.4">。</tspan></text></g>

<g id="watermarks">
<text class="wm" x="640" y="535" transform="rotate(-30 640 500)">树图 shutu.cn</text>
<text class="wm" x="1945" y="535" transform="rotate(-30 1945 500)">树图 shutu.cn</text>
<text class="wm" x="640" y="1535" transform="rotate(-30 640 1500)">树图 shutu.cn</text>
<text class="wm" x="1945" y="1525" transform="rotate(-30 1945 1490)">树图 shutu.cn</text>
<text class="wm" x="635" y="2565" transform="rotate(-30 635 2530)">树图 shutu.cn</text>
<text class="wm" x="1935" y="2555" transform="rotate(-30 1935 2520)">树图 shutu.cn</text>
<text class="wm" x="630" y="3565" transform="rotate(-30 630 3530)">树图 shutu.cn</text>
<text class="wm" x="1955" y="3545" transform="rotate(-30 1955 3510)">树图 shutu.cn</text>
</g>
</svg>
